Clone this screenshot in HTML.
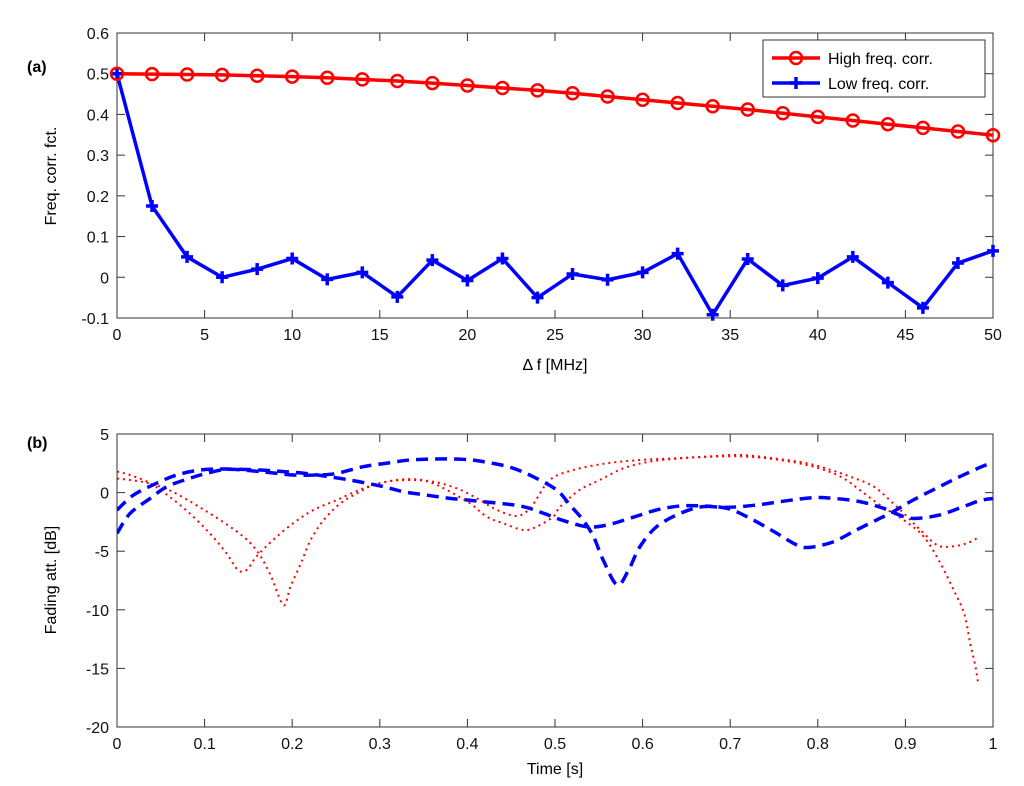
<!DOCTYPE html>
<html><head><meta charset="utf-8"><style>
body{margin:0;background:#fff;}
svg{display:block;font-family:"Liberation Sans",sans-serif;}
</style></head><body>
<svg id="fig" width="1024" height="786" viewBox="0 0 1024 786" xmlns="http://www.w3.org/2000/svg"></svg>
<script>
// ---- panel (a) data ----
const dfA = [0,2,4,6,8,10,12,14,16,18,20,22,24,26,28,30,32,34,36,38,40,42,44,46,48,50];
const highCorr = [0.5,0.499,0.498,0.497,0.495,0.493,0.490,0.486,0.482,0.477,0.471,0.465,0.459,0.452,0.444,0.436,0.428,0.420,0.412,0.403,0.394,0.385,0.376,0.367,0.358,0.349];
const lowCorr = [0.5,0.175,0.05,0.0,0.02,0.046,-0.005,0.012,-0.048,0.042,-0.008,0.046,-0.05,0.008,-0.006,0.012,0.058,-0.092,0.045,-0.02,-0.002,0.05,-0.013,-0.075,0.035,0.065];
const xTicksA = [0,5,10,15,20,25,30,35,40,45,50];
const yTicksA = [-0.1,0,0.1,0.2,0.3,0.4,0.5,0.6];
// ---- panel (b) data ----
const tBlueA = [0,0.015,0.038,0.057,0.083,0.102,0.125,0.152,0.175,0.201,0.228,0.251,0.281,0.312,0.334,0.365,0.395,0.418,0.449,0.475,0.502,0.517,0.532,0.544,0.555,0.571,0.584,0.597,0.616,0.643,0.669,0.696,0.719,0.75,0.776,0.791,0.818,0.844,0.867,0.886,0.909,0.939,0.962,0.989,1.0];
const vBlueA = [-3.48,-1.77,-0.49,0.51,1.22,1.64,1.98,1.87,1.70,1.50,1.50,1.64,2.21,2.55,2.78,2.87,2.84,2.64,2.16,1.36,0.22,-1.06,-2.34,-3.76,-5.75,-7.88,-6.60,-4.61,-2.91,-1.77,-1.20,-1.34,-2.05,-3.33,-4.47,-4.67,-4.19,-3.19,-2.34,-1.63,-0.63,0.51,1.36,2.27,2.5];
const tBlueB = [0,0.019,0.045,0.068,0.095,0.125,0.163,0.19,0.22,0.266,0.304,0.327,0.353,0.38,0.411,0.46,0.487,0.506,0.536,0.559,0.589,0.616,0.643,0.669,0.696,0.73,0.765,0.795,0.818,0.848,0.875,0.898,0.913,0.939,0.966,0.985,1.0];
const vBlueB = [-1.49,-0.20,0.79,1.50,1.93,2.01,1.93,1.79,1.59,1.07,0.51,0.08,-0.21,-0.49,-0.72,-1.14,-1.77,-2.3,-2.91,-2.77,-2.11,-1.48,-1.14,-1.14,-1.26,-1.06,-0.69,-0.43,-0.49,-0.77,-1.34,-2.05,-2.20,-1.91,-1.20,-0.69,-0.5];
const tRedC = [0,0.015,0.038,0.06,0.083,0.106,0.125,0.138,0.148,0.159,0.178,0.201,0.224,0.251,0.281,0.308,0.334,0.361,0.388,0.411,0.43,0.449,0.462,0.475,0.494,0.521,0.559,0.597,0.635,0.673,0.711,0.75,0.788,0.815,0.837,0.864,0.886,0.902,0.917,0.936,0.951,0.97,0.985];
const vRedC = [1.79,1.50,0.79,-0.35,-1.77,-3.48,-5.18,-6.60,-6.60,-5.47,-4.05,-2.62,-1.49,-0.63,0.36,0.93,1.07,0.93,0.36,-0.49,-1.34,-1.91,-1.9,-1.0,1.07,1.93,2.50,2.78,2.92,3.07,3.21,2.92,2.50,1.93,1.36,0.51,-0.92,-2.05,-3.19,-4.47,-4.61,-4.33,-3.76];
const tRedD = [0,0.03,0.06,0.1,0.14,0.16,0.175,0.19,0.198,0.21,0.221,0.236,0.255,0.274,0.293,0.319,0.342,0.361,0.38,0.403,0.422,0.441,0.464,0.479,0.498,0.506,0.528,0.551,0.578,0.608,0.643,0.681,0.719,0.757,0.795,0.826,0.848,0.871,0.898,0.921,0.94,0.955,0.967,0.974,0.98,0.983];
const vRedD = [1.2,0.9,0.2,-1.5,-3.5,-5.0,-7.0,-9.6,-8.02,-6.03,-4.05,-2.34,-0.92,-0.06,0.65,1.07,1.13,0.79,0.08,-0.92,-2.05,-2.62,-3.19,-2.91,-2.05,-1.20,0.22,1.07,2.07,2.64,2.92,3.07,3.07,2.78,2.21,1.36,0.22,-1.06,-2.34,-3.76,-6.03,-8.31,-10.30,-12.86,-14.85,-16.27];
const xTicksB = [0,0.1,0.2,0.3,0.4,0.5,0.6,0.7,0.8,0.9,1];
const yTicksB = [-20,-15,-10,-5,0,5];

const NS="http://www.w3.org/2000/svg";
const svg=document.getElementById('fig');
function mk(tag,attrs,parent){const e=document.createElementNS(NS,tag);for(const k in attrs)e.setAttribute(k,attrs[k]);(parent||svg).appendChild(e);return e;}
function txt(s,attrs){const e=mk('text',attrs);e.textContent=s;return e;}

const L=117,R=993;
const A={top:33,bot:318,x0:0,x1:50,y0:-0.1,y1:0.6};
const B={top:434,bot:727,x0:0,x1:1,y0:-20,y1:5};
const sx=(P,v)=>L+(v-P.x0)/(P.x1-P.x0)*(R-L);
const sy=(P,v)=>P.bot-(v-P.y0)/(P.y1-P.y0)*(P.bot-P.top);

function axes(P,xt,yt,xfmt,yfmt,name){
  const g=mk('g',{});
  
  
  mk('rect',{x:L,y:P.top,width:R-L,height:P.bot-P.top,fill:'#fff',stroke:'#333','stroke-width':1},g);
  xt.forEach(v=>{const x=sx(P,v);
    mk('line',{x1:x,x2:x,y1:P.bot,y2:P.bot-8,stroke:'#333'},g);
    mk('line',{x1:x,x2:x,y1:P.top,y2:P.top+8,stroke:'#333'},g);
    const t=txt(xfmt(v),{x:x,y:P.bot+22,'text-anchor':'middle','font-size':16,fill:'#111'});
    
    
  });
  yt.forEach(v=>{const y=sy(P,v);
    mk('line',{x1:L,x2:L+8,y1:y,y2:y,stroke:'#333'},g);
    mk('line',{x1:R,x2:R-8,y1:y,y2:y,stroke:'#333'},g);
    const t=txt(yfmt(v),{x:L-8,y:y+6,'text-anchor':'end','font-size':16,fill:'#111'});
    
    
  });
}
axes(A,xTicksA,yTicksA,v=>String(v),v=>v===0?'0':v.toFixed(1),'panel-a');
axes(B,xTicksB,yTicksB,v=>String(v),v=>String(v),'panel-b');

function polyA(vals,color,name){
  const pts=dfA.map((d,i)=>sx(A,d)+','+sy(A,vals[i])).join(' ');
  const p=mk('polyline',{points:pts,fill:'none',stroke:color,'stroke-width':3.5,'stroke-linejoin':'round'});
  
  
}
polyA(highCorr,'#f00','high-freq-corr');
polyA(lowCorr,'#00f','low-freq-corr');
dfA.forEach((d,i)=>{
  const x=sx(A,d),y=sy(A,lowCorr[i]);
  const m=mk('path',{d:`M${x-6},${y}H${x+6}M${x},${y-6}V${y+6}`,stroke:'#00f','stroke-width':3.5});
  
  
});
dfA.forEach((d,i)=>{
  const c=mk('circle',{cx:sx(A,d),cy:sy(A,highCorr[i]),r:6,fill:'none',stroke:'#f00','stroke-width':2.5});
  
  
});

function smooth(ts,vs){
  const p=ts.map((t,i)=>[sx(B,t),sy(B,vs[i])]);
  let d=`M${p[0][0]},${p[0][1]}`;
  for(let i=0;i<p.length-1;i++){
    const p0=p[Math.max(0,i-1)],p1=p[i],p2=p[i+1],p3=p[Math.min(p.length-1,i+2)];
    const c1=[p1[0]+(p2[0]-p0[0])/6,p1[1]+(p2[1]-p0[1])/6];
    const c2=[p2[0]-(p3[0]-p1[0])/6,p2[1]-(p3[1]-p1[1])/6];
    d+=`C${c1[0]},${c1[1]} ${c2[0]},${c2[1]} ${p2[0]},${p2[1]}`;
  }
  return d;
}
const clip=mk('clipPath',{id:'clipB'});
mk('rect',{x:L,y:B.top,width:R-L,height:B.bot-B.top},clip);
function curveB(ts,vs,color,w,dash,name){
  const p=mk('path',{d:smooth(ts,vs),fill:'none',stroke:color,'stroke-width':w,'stroke-dasharray':dash,'clip-path':'url(#clipB)'});
  
  
}
curveB(tRedC,vRedC,'#f00',2,'2 4','red-fading-curve-1');
curveB(tRedD,vRedD,'#f00',2,'2 4','red-fading-curve-2');
curveB(tBlueA,vBlueA,'#00f',3.5,'12 7','blue-fading-curve-1');
curveB(tBlueB,vBlueB,'#00f',3.5,'12 7','blue-fading-curve-2');
</script>
<svg style="position:absolute;left:0;top:0" width="1024" height="786" xmlns="http://www.w3.org/2000/svg" font-family="Liberation Sans, sans-serif">
  <text x="27" y="72" font-size="16" font-weight="bold">(a)</text>
  <text x="27" y="448" font-size="16" font-weight="bold">(b)</text>
  <text transform="translate(56,176) rotate(-90)" text-anchor="middle" font-size="16">Freq. corr. fct.</text>
  <text transform="translate(56,580) rotate(-90)" text-anchor="middle" font-size="16">Fading att. [dB]</text>
  <text x="555" y="370" text-anchor="middle" font-size="16">Δ f [MHz]</text>
  <text x="555" y="774" text-anchor="middle" font-size="16">Time [s]</text>
  <g>
    <rect x="763" y="40" width="222" height="57" fill="#fff" stroke="#333" stroke-width="1"/>
    <line x1="772" x2="820" y1="58" y2="58" stroke="#f00" stroke-width="3.5"/>
    <circle cx="796" cy="58" r="6" fill="none" stroke="#f00" stroke-width="2.5"/>
    <text x="828" y="64" font-size="16">High freq. corr.</text>
    <line x1="772" x2="820" y1="83" y2="83" stroke="#00f" stroke-width="3.5"/>
    <path d="M790,83H802M796,77V89" stroke="#00f" stroke-width="3.5"/>
    <text x="828" y="89" font-size="16">Low freq. corr.</text>
  </g>
</svg>
</body></html>
